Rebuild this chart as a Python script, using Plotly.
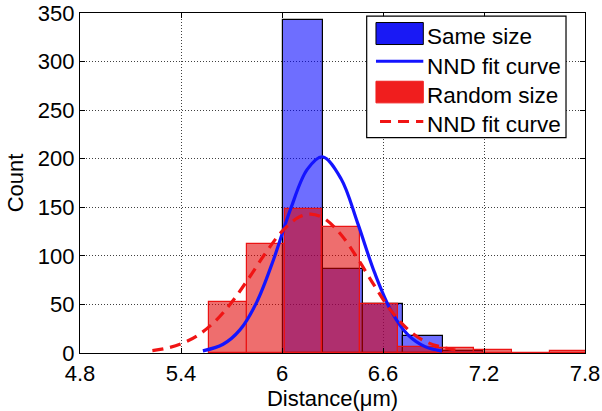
import plotly.graph_objects as go

# ---- histogram data (bin left edges, bin width, counts) ----
same_left = [6.008, 6.245, 6.482, 6.719, 6.956]
same_width = 0.237
same_counts = [343, 86, 50, 17, 2]

rand_left = [5.565, 5.79, 6.015, 6.24, 6.465, 6.69, 6.915, 7.14, 7.365, 7.59]
rand_width = 0.225
rand_counts = [52, 112, 148, 130, 50, 6, 5, 3, 0, 2]

# ---- NND fit curves (sampled) ----
same_fit_x = [5.53, 5.65, 5.75, 5.85, 5.95, 6.05, 6.15, 6.24, 6.35, 6.45,
              6.55, 6.65, 6.75, 6.85, 6.95]
same_fit_y = [2.2, 9.0, 23.8, 52.4, 96.3, 147.7, 189.0, 202.0, 179.6, 133.4,
              82.7, 42.8, 18.5, 6.6, 2.0]

rand_fit_x = [5.23, 5.30, 5.40, 5.50, 5.60, 5.70, 5.80, 5.90, 6.00, 6.10,
              6.17, 6.25, 6.35, 6.45, 6.55, 6.65, 6.75, 6.85, 6.95, 7.03]
rand_fit_y = [2.5, 4.4, 9.4, 18.2, 32.2, 51.9, 76.3, 102.3, 125.2, 139.8,
              143.0, 138.6, 122.0, 97.0, 69.0, 43.0, 24.0, 12.0, 6.0, 3.0]

x_ticks = [4.8, 5.4, 6.0, 6.6, 7.2, 7.8]
x_tick_text = ["4.8", "5.4", "6", "6.6", "7.2", "7.8"]
y_ticks = [0, 50, 100, 150, 200, 250, 300, 350]

legend_labels = ["Same size", "NND fit curve", "Random size", "NND fit curve"]

FONT = "Liberation Sans, Arial, sans-serif"

fig = go.Figure()

fig.add_trace(go.Bar(
    x=[l + same_width / 2 for l in same_left], y=same_counts,
    width=same_width,
    marker=dict(color="rgba(0,0,255,0.57)", line=dict(color="black", width=1.2)),
    showlegend=False,
))
fig.add_trace(go.Bar(
    x=[l + rand_width / 2 for l in rand_left], y=rand_counts,
    width=rand_width,
    marker=dict(color="rgba(225,0,0,0.57)", line=dict(color="rgb(235,20,20)", width=1.2)),
    showlegend=False,
))
fig.add_trace(go.Scatter(
    x=same_fit_x, y=same_fit_y, mode="lines",
    line=dict(color="rgb(20,20,255)", width=3.2, shape="spline"),
    showlegend=False,
))
fig.add_trace(go.Scatter(
    x=rand_fit_x, y=rand_fit_y, mode="lines",
    line=dict(color="rgb(240,20,20)", width=3.2, shape="spline", dash="11px,7px"),
    showlegend=False,
))

# ---- hand-drawn legend box (paper coordinates) ----
shapes = []
annotations = []
shapes.append(dict(type="rect", xref="paper", yref="paper",
                   x0=0.5677, x1=0.9624, y0=0.6336, y1=0.9906,
                   line=dict(color="black", width=1.2), fillcolor="white", layer="above"))
# blue patch
shapes.append(dict(type="rect", xref="paper", yref="paper",
                   x0=0.5861, x1=0.6798, y0=0.9073, y1=0.972,
                   line=dict(color="black", width=1), fillcolor="rgb(25,25,245)", layer="above"))
# blue line
shapes.append(dict(type="line", xref="paper", yref="paper",
                   x0=0.5861, x1=0.6798, y0=0.8582, y1=0.8582,
                   line=dict(color="rgb(20,20,255)", width=3), layer="above"))
# red patch
shapes.append(dict(type="rect", xref="paper", yref="paper",
                   x0=0.5861, x1=0.6798, y0=0.7357, y1=0.7993,
                   line=dict(color="rgb(240,30,30)", width=1), fillcolor="rgb(240,30,30)", layer="above"))
# red dashed line
shapes.append(dict(type="line", xref="paper", yref="paper",
                   x0=0.5941, x1=0.6798, y0=0.6807, y1=0.6807,
                   line=dict(color="rgb(240,20,20)", width=3, dash="11px,7px"), layer="above"))

for label, yp in zip(legend_labels, [0.9310, 0.8430, 0.7570, 0.6710]):
    annotations.append(dict(xref="paper", yref="paper", x=0.6840, y=yp,
                            text=label, showarrow=False, xanchor="left", yanchor="middle",
                            font=dict(family=FONT, size=22.5, color="black")))

axis_common = dict(
    showline=True, linecolor="black", linewidth=1.3, mirror="ticks",
    ticks="inside", ticklen=5, tickcolor="black",
    showgrid=True, gridcolor="rgba(30,30,30,0.85)", gridwidth=1, griddash="1px,2px",
    zeroline=False, automargin=False,
    tickfont=dict(family=FONT, size=22, color="black"),
)

fig.update_layout(
    width=602, height=411,
    margin=dict(l=80, r=17, t=13, b=58),
    paper_bgcolor="white", plot_bgcolor="white",
    barmode="overlay", bargap=0,
    showlegend=False,
    shapes=shapes, annotations=annotations,
    xaxis=dict(range=[4.8, 7.8], tickvals=x_ticks, ticktext=x_tick_text,
               title=dict(text="Distance(\u03bcm)", font=dict(family=FONT, size=22, color="black"),
                          standoff=5),
               **axis_common),
    yaxis=dict(range=[0, 350], tickvals=y_ticks,
               title=dict(text="Count", font=dict(family=FONT, size=22, color="black"),
                          standoff=8),
               **axis_common),
)

fig.write_html("out.html")
